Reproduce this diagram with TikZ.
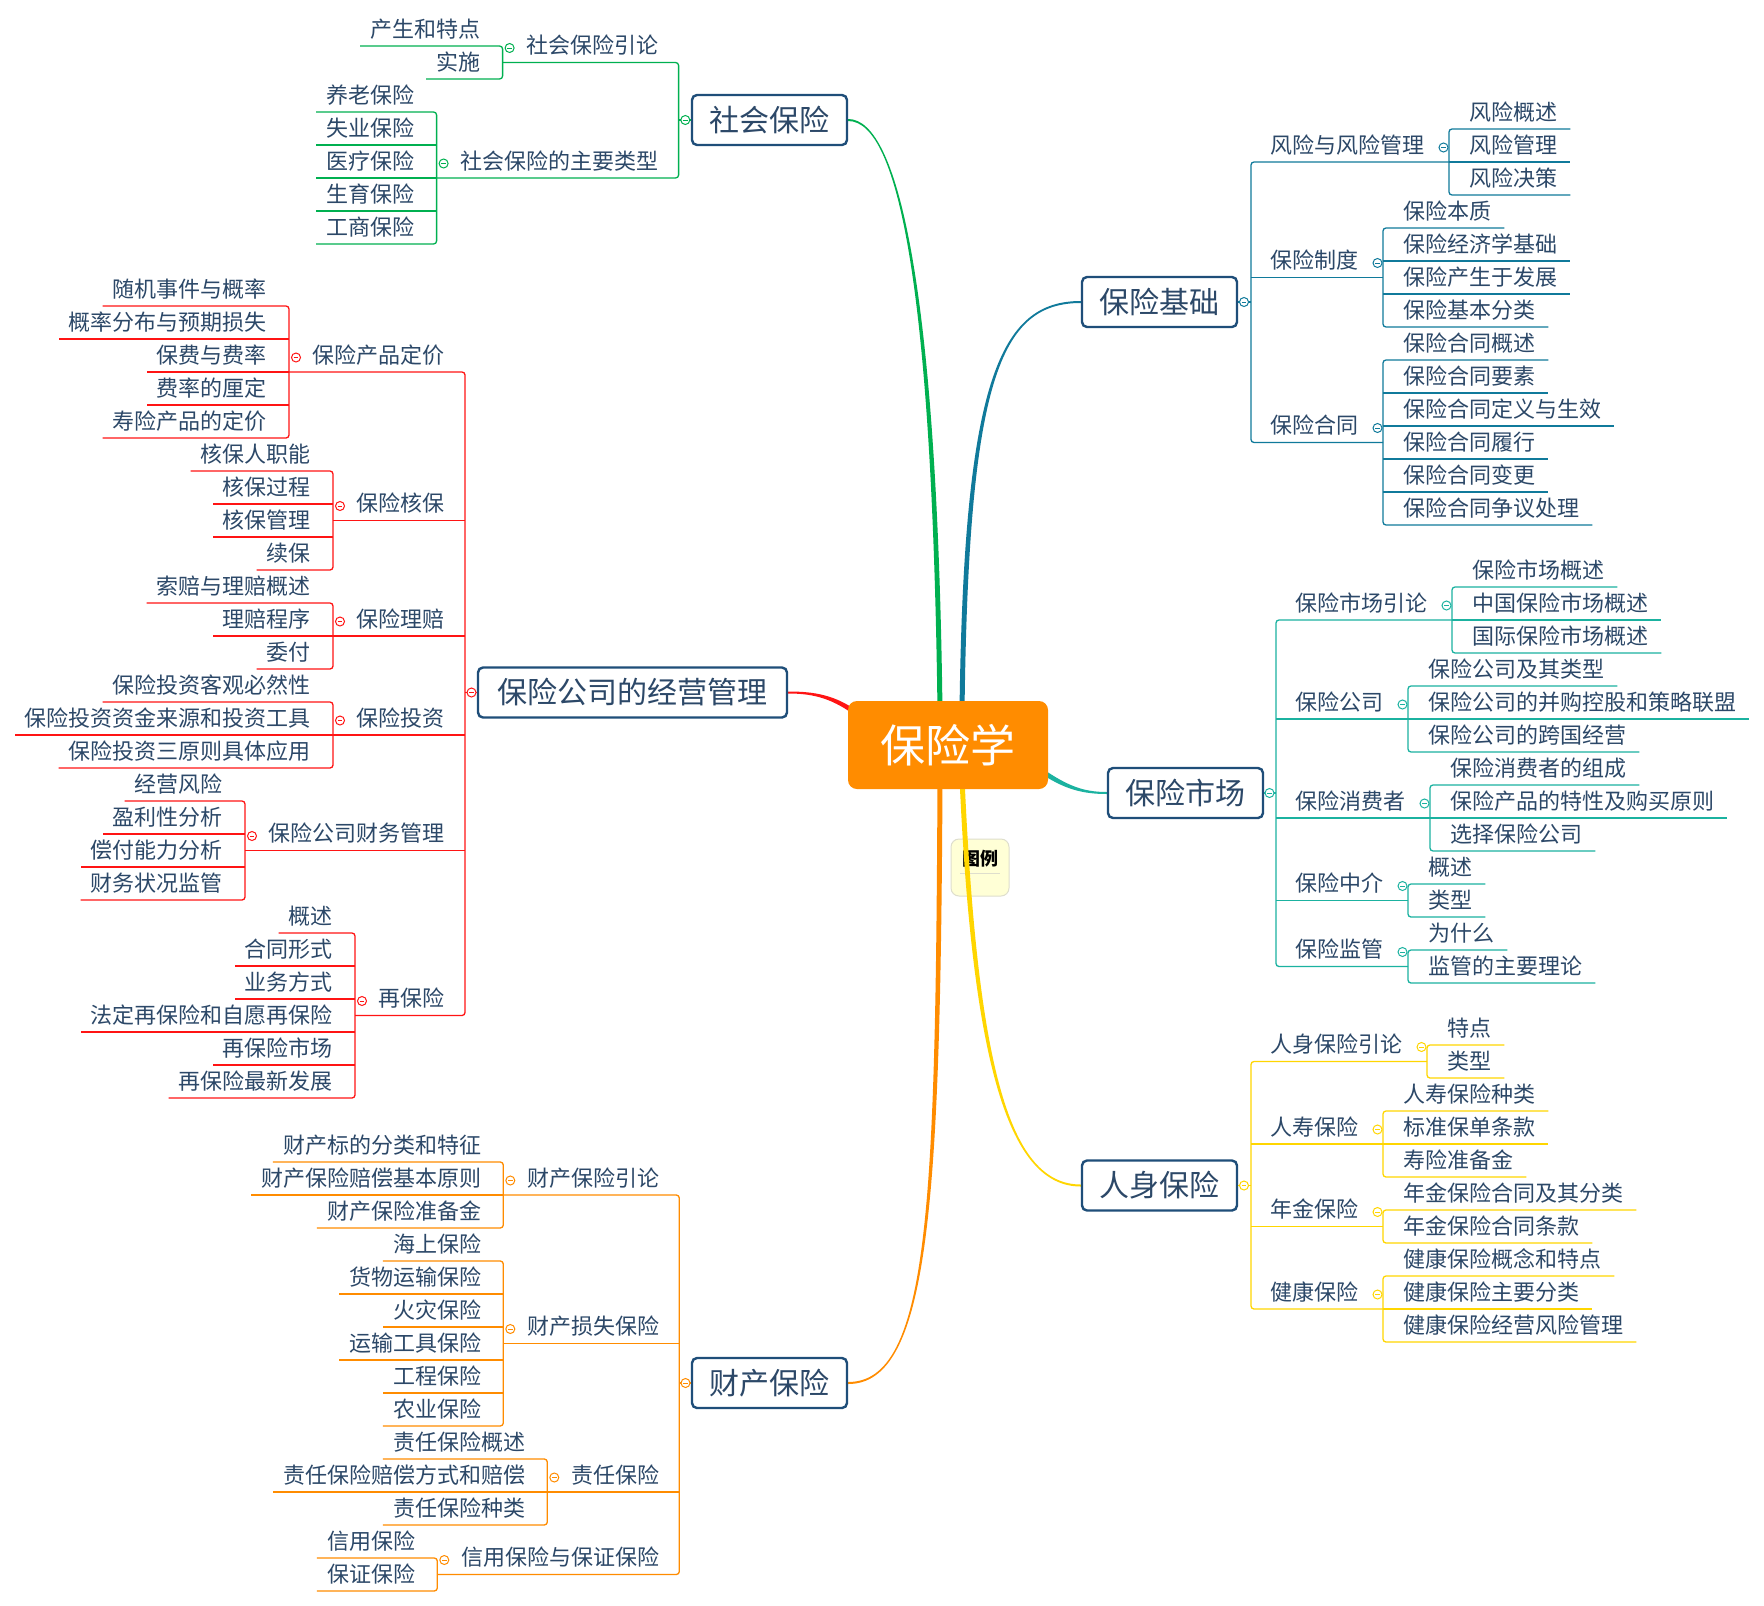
\documentclass[tikz,border=0pt]{standalone}
\usepackage{fontspec}
\setmainfont{Noto Sans CJK SC}
\usetikzlibrary{calc}
\pgfdeclarelayer{bg}
\pgfsetlayers{bg,main}
\definecolor{txt}{RGB}{44,72,104}
\definecolor{boxb}{RGB}{31,78,121}
\definecolor{cgreen}{RGB}{0,176,80}
\definecolor{cblue}{RGB}{16,122,155}
\definecolor{cteal}{RGB}{27,178,160}
\definecolor{cyell}{RGB}{255,214,0}
\definecolor{corng}{RGB}{255,140,0}
\definecolor{cred}{RGB}{255,20,20}
\definecolor{legf}{RGB}{255,255,214}
\definecolor{legd}{RGB}{222,222,205}
% leaf on the right / left of its bracket: name, bracket x, underline y, text
\newcommand\leafR[4]{\node[leaf,anchor=base west] (#1) at (#2+20,#3-9) {#4};\coordinate (#1u) at ($(#1.base east)+(13,9)$);}
\newcommand\leafL[4]{\node[leaf,anchor=base east] (#1) at (#2-22,#3-9) {#4};\coordinate (#1u) at ($(#1.base west)+(-10,9)$);}
% level-2 topic: name, main bracket x, underline y, text
\newcommand\parR[4]{\node[leaf,anchor=base west] (#1) at (#2+19,#3-9) {#4};}
\newcommand\parL[4]{\node[leaf,anchor=base east] (#1) at (#2-20,#3-9) {#4};}
% bracket: colour, x, first y, last y, first leaf, last leaf
\newcommand\brk[6]{\draw[br=#1] (#5u) -- (#2,#3) -- (#2,#4) -- (#6u);}
\newcommand\midl[4]{\draw[br=#1] (#2,#3) -- (#4u);}
\newcommand\knob[4]{\node[knobn,draw=#2] (#1) at (#3,#4) {};\draw[#2,line width=0.9pt] ($(#1.center)+(-2.3,0)$) -- ($(#1.center)+(2.3,0)$);}
\newcommand\taper[7]{\fill[#1] ($(#2)+(#6)$) .. controls ($(#3)+(#6)$) and ($(#4)+(#7)$) .. ($(#5)+(#7)$) -- ($(#5)-(#7)$) .. controls ($(#4)-(#7)$) and ($(#3)-(#6)$) .. ($(#2)-(#6)$) -- cycle;}
\begin{document}
\begin{tikzpicture}[x=1pt,y=-1pt,
 leaf/.style={inner sep=0pt,text=txt,font=\fontsize{22}{26}\selectfont},
 mainbox/.style={draw=boxb,line width=2.4pt,fill=white,rounded corners=5pt,inner sep=0pt,minimum height=50pt,minimum width=155pt,text=txt,font=\fontsize{30}{34}\selectfont},
 centerbox/.style={fill=corng,rounded corners=9pt,inner sep=0pt,minimum width=200pt,minimum height=88pt,text=white,font=\fontsize{45}{50}\selectfont},
 knobn/.style={circle,fill=white,line width=1pt,minimum size=9pt,inner sep=0pt},
 br/.style={draw=#1,line width=1.3pt,rounded corners=3pt}]
\begin{pgfonlayer}{bg}
\fill[white] (0,0) rectangle (1764,1606);
\end{pgfonlayer}
\useasboundingbox (0,0) rectangle (1764,1606);

% ---------- central and main topics
\node[centerbox] (C) at (948,745) {保险学};
\node[mainbox] (M1) at (769.5,120) {社会保险};
\node[mainbox] (M2) at (1159.5,302) {保险基础};
\node[mainbox] (M3) at (1185.5,793) {保险市场};
\node[mainbox] (M4) at (1159.5,1185.5) {人身保险};
\node[mainbox] (M5) at (769.5,1383) {财产保险};
\node[mainbox,minimum width=309pt] (M6) at (632.5,692.5) {保险公司的经营管理};

% ---------- legend and curved connectors (background)
\begin{pgfonlayer}{bg}
\node[draw=legd,fill=legf,line width=1pt,rounded corners=8pt,minimum width=58pt,minimum height=57pt,inner sep=0pt] (LG) at (980,867.5) {};
\node[inner sep=0pt,text=black,font=\fontsize{18}{20}\selectfont\bfseries] (LGt) at (980,859) {图例};
\draw[legd,line width=1pt] (960,873) -- (1000,873);
\coordinate (g0) at ($(C.center)+(-8,-33)$);
\coordinate (b0) at ($(C.center)+(14,-33)$);
\coordinate (y0) at ($(C.center)+(14,33)$);
\coordinate (o0) at ($(C.center)+(-8,33)$);
\coordinate (r0) at ($(C.center)+(-88,-29)$);
\coordinate (t0) at ($(C.center)+(92,25)$);
\taper{cgreen}{g0}{935,300}{900,120}{M1.east}{2.5,0}{0,-1}
\taper{cblue}{b0}{966,380}{1000,302}{M2.west}{2.5,0}{0,1}
\taper{cyell}{y0}{975,1070}{1010,1185.5}{M4.west}{2.5,0}{0,-1}
\taper{corng}{o0}{938,1200}{930,1383}{M5.east}{2.5,0}{0,1}
\taper{cred}{r0}{835,697}{815,692.5}{M6.east}{1.4,-2}{0,-1}
\taper{cteal}{t0}{1065,787}{1082,793}{M3.west}{1.4,-2}{0,-1}
\end{pgfonlayer}

% ---------- 社会保险 (green, left)
\parL{SA}{678.6}{62.5}{社会保险引论}
\leafL{SA1}{502.6}{46}{产生和特点}
\leafL{SA2}{502.6}{79}{实施}
\brk{cgreen}{502.6}{46}{79}{SA1}{SA2}
\parL{SB}{678.6}{178}{社会保险的主要类型}
\leafL{SB1}{436.6}{112}{养老保险}
\leafL{SB2}{436.6}{145}{失业保险}
\leafL{SB3}{436.6}{178}{医疗保险}
\leafL{SB4}{436.6}{211}{生育保险}
\leafL{SB5}{436.6}{244}{工商保险}
\brk{cgreen}{436.6}{112}{244}{SB1}{SB5}
\midl{cgreen}{436.6}{145}{SB2}
\midl{cgreen}{436.6}{178}{SB3}
\midl{cgreen}{436.6}{211}{SB4}
\draw[br=cgreen] (502.6,62.5) -- (678.6,62.5) -- (678.6,178) -- (436.6,178);
\draw[br=cgreen] (M1.west) -- (678.6,120);
\knob{SAk}{cgreen}{509.6}{48}
\knob{SBk}{cgreen}{443.6}{163.5}
\knob{M1k}{cgreen}{685.3}{120}

% ---------- 保险公司的经营管理 (red, left)
\parL{RA}{465}{372}{保险产品定价}
\leafL{RA1}{289}{306}{随机事件与概率}
\leafL{RA2}{289}{339}{概率分布与预期损失}
\leafL{RA3}{289}{372}{保费与费率}
\leafL{RA4}{289}{405}{费率的厘定}
\leafL{RA5}{289}{438}{寿险产品的定价}
\brk{cred}{289}{306}{438}{RA1}{RA5}
\midl{cred}{289}{339}{RA2}
\midl{cred}{289}{372}{RA3}
\midl{cred}{289}{405}{RA4}
\parL{RB}{465}{520.5}{保险核保}
\leafL{RB1}{333}{471}{核保人职能}
\leafL{RB2}{333}{504}{核保过程}
\leafL{RB3}{333}{537}{核保管理}
\leafL{RB4}{333}{570}{续保}
\brk{cred}{333}{471}{570}{RB1}{RB4}
\midl{cred}{333}{504}{RB2}
\midl{cred}{333}{537}{RB3}
\parL{RC}{465}{636}{保险理赔}
\leafL{RC1}{333}{603}{索赔与理赔概述}
\leafL{RC2}{333}{636}{理赔程序}
\leafL{RC3}{333}{669}{委付}
\brk{cred}{333}{603}{669}{RC1}{RC3}
\midl{cred}{333}{636}{RC2}
\parL{RD}{465}{735}{保险投资}
\leafL{RD1}{333}{702}{保险投资客观必然性}
\leafL{RD2}{333}{735}{保险投资资金来源和投资工具}
\leafL{RD3}{333}{768}{保险投资三原则具体应用}
\brk{cred}{333}{702}{768}{RD1}{RD3}
\midl{cred}{333}{735}{RD2}
\parL{RE}{465}{850.5}{保险公司财务管理}
\leafL{RE1}{245}{801}{经营风险}
\leafL{RE2}{245}{834}{盈利性分析}
\leafL{RE3}{245}{867}{偿付能力分析}
\leafL{RE4}{245}{900}{财务状况监管}
\brk{cred}{245}{801}{900}{RE1}{RE4}
\midl{cred}{245}{834}{RE2}
\midl{cred}{245}{867}{RE3}
\parL{RF}{465}{1015.5}{再保险}
\leafL{RF1}{355}{933}{概述}
\leafL{RF2}{355}{966}{合同形式}
\leafL{RF3}{355}{999}{业务方式}
\leafL{RF4}{355}{1032}{法定再保险和自愿再保险}
\leafL{RF5}{355}{1065}{再保险市场}
\leafL{RF6}{355}{1098}{再保险最新发展}
\brk{cred}{355}{933}{1098}{RF1}{RF6}
\midl{cred}{355}{966}{RF2}
\midl{cred}{355}{999}{RF3}
\midl{cred}{355}{1032}{RF4}
\midl{cred}{355}{1065}{RF5}
\draw[br=cred] (289,372) -- (465,372) -- (465,1015.5) -- (355,1015.5);
\draw[br=cred] (333,520.5) -- (465,520.5);
\draw[br=cred] (333,636) -- (465,636);
\draw[br=cred] (333,735) -- (465,735);
\draw[br=cred] (245,850.5) -- (465,850.5);
\draw[br=cred] (M6.west) -- (465,692.5);
\knob{RAk}{cred}{296}{357.5}
\knob{RBk}{cred}{340}{506}
\knob{RCk}{cred}{340}{621.5}
\knob{RDk}{cred}{340}{720.5}
\knob{REk}{cred}{252}{836}
\knob{RFk}{cred}{362}{1001}
\knob{M6k}{cred}{471.5}{692.5}

% ---------- 财产保险 (orange, left)
\parL{OA}{679.3}{1195}{财产保险引论}
\leafL{OA1}{503.3}{1162}{财产标的分类和特征}
\leafL{OA2}{503.3}{1195}{财产保险赔偿基本原则}
\leafL{OA3}{503.3}{1228}{财产保险准备金}
\brk{corng}{503.3}{1162}{1228}{OA1}{OA3}
\midl{corng}{503.3}{1195}{OA2}
\parL{OB}{679.3}{1343.5}{财产损失保险}
\leafL{OB1}{503.3}{1261}{海上保险}
\leafL{OB2}{503.3}{1294}{货物运输保险}
\leafL{OB3}{503.3}{1327}{火灾保险}
\leafL{OB4}{503.3}{1360}{运输工具保险}
\leafL{OB5}{503.3}{1393}{工程保险}
\leafL{OB6}{503.3}{1426}{农业保险}
\brk{corng}{503.3}{1261}{1426}{OB1}{OB6}
\midl{corng}{503.3}{1294}{OB2}
\midl{corng}{503.3}{1327}{OB3}
\midl{corng}{503.3}{1360}{OB4}
\midl{corng}{503.3}{1393}{OB5}
\parL{OC}{679.3}{1492}{责任保险}
\leafL{OC1}{547.3}{1459}{责任保险概述}
\leafL{OC2}{547.3}{1492}{责任保险赔偿方式和赔偿}
\leafL{OC3}{547.3}{1525}{责任保险种类}
\brk{corng}{547.3}{1459}{1525}{OC1}{OC3}
\midl{corng}{547.3}{1492}{OC2}
\parL{OD}{679.3}{1574.5}{信用保险与保证保险}
\leafL{OD1}{437.3}{1558}{信用保险}
\leafL{OD2}{437.3}{1591}{保证保险}
\brk{corng}{437.3}{1558}{1591}{OD1}{OD2}
\draw[br=corng] (503.3,1195) -- (679.3,1195) -- (679.3,1574.5) -- (437.3,1574.5);
\draw[br=corng] (503.3,1343.5) -- (679.3,1343.5);
\draw[br=corng] (547.3,1492) -- (679.3,1492);
\draw[br=corng] (M5.west) -- (679.3,1383);
\knob{OAk}{corng}{510.3}{1180.5}
\knob{OBk}{corng}{510.3}{1329}
\knob{OCk}{corng}{554.3}{1477.5}
\knob{ODk}{corng}{444.3}{1560}
\knob{M5k}{corng}{685.5}{1383}

% ---------- 保险基础 (blue, right)
\parR{BA}{1251}{162}{风险与风险管理}
\leafR{BA1}{1449}{129}{风险概述}
\leafR{BA2}{1449}{162}{风险管理}
\leafR{BA3}{1449}{195}{风险决策}
\brk{cblue}{1449}{129}{195}{BA1}{BA3}
\midl{cblue}{1449}{162}{BA2}
\parR{BB}{1251}{277.5}{保险制度}
\leafR{BB1}{1383}{228}{保险本质}
\leafR{BB2}{1383}{261}{保险经济学基础}
\leafR{BB3}{1383}{294}{保险产生于发展}
\leafR{BB4}{1383}{327}{保险基本分类}
\brk{cblue}{1383}{228}{327}{BB1}{BB4}
\midl{cblue}{1383}{261}{BB2}
\midl{cblue}{1383}{294}{BB3}
\parR{BC}{1251}{442.5}{保险合同}
\leafR{BC1}{1383}{360}{保险合同概述}
\leafR{BC2}{1383}{393}{保险合同要素}
\leafR{BC3}{1383}{426}{保险合同定义与生效}
\leafR{BC4}{1383}{459}{保险合同履行}
\leafR{BC5}{1383}{492}{保险合同变更}
\leafR{BC6}{1383}{525}{保险合同争议处理}
\brk{cblue}{1383}{360}{525}{BC1}{BC6}
\midl{cblue}{1383}{393}{BC2}
\midl{cblue}{1383}{426}{BC3}
\midl{cblue}{1383}{459}{BC4}
\midl{cblue}{1383}{492}{BC5}
\draw[br=cblue] (1449,162) -- (1251,162) -- (1251,442.5) -- (1383,442.5);
\draw[br=cblue] (1251,277.5) -- (1383,277.5);
\draw[br=cblue] (M2.east) -- (1251,302);
\knob{BAk}{cblue}{1443.5}{147.5}
\knob{BBk}{cblue}{1377.5}{263}
\knob{BCk}{cblue}{1377.5}{428}
\knob{M2k}{cblue}{1244}{302}

% ---------- 保险市场 (teal, right)
\parR{TA}{1276}{620}{保险市场引论}
\leafR{TA1}{1452}{587}{保险市场概述}
\leafR{TA2}{1452}{620}{中国保险市场概述}
\leafR{TA3}{1452}{653}{国际保险市场概述}
\brk{cteal}{1452}{587}{653}{TA1}{TA3}
\midl{cteal}{1452}{620}{TA2}
\parR{TB}{1276}{719}{保险公司}
\leafR{TB1}{1408}{686}{保险公司及其类型}
\leafR{TB2}{1408}{719}{保险公司的并购控股和策略联盟}
\leafR{TB3}{1408}{752}{保险公司的跨国经营}
\brk{cteal}{1408}{686}{752}{TB1}{TB3}
\midl{cteal}{1408}{719}{TB2}
\parR{TC}{1276}{818}{保险消费者}
\leafR{TC1}{1430}{785}{保险消费者的组成}
\leafR{TC2}{1430}{818}{保险产品的特性及购买原则}
\leafR{TC3}{1430}{851}{选择保险公司}
\brk{cteal}{1430}{785}{851}{TC1}{TC3}
\midl{cteal}{1430}{818}{TC2}
\parR{TD}{1276}{900.5}{保险中介}
\leafR{TD1}{1408}{884}{概述}
\leafR{TD2}{1408}{917}{类型}
\brk{cteal}{1408}{884}{917}{TD1}{TD2}
\parR{TE}{1276}{966.5}{保险监管}
\leafR{TE1}{1408}{950}{为什么}
\leafR{TE2}{1408}{983}{监管的主要理论}
\brk{cteal}{1408}{950}{983}{TE1}{TE2}
\draw[br=cteal] (1452,620) -- (1276,620) -- (1276,966.5) -- (1408,966.5);
\draw[br=cteal] (1276,719) -- (1408,719);
\draw[br=cteal] (1276,818) -- (1430,818);
\draw[br=cteal] (1276,900.5) -- (1408,900.5);
\draw[br=cteal] (M3.east) -- (1276,793);
\knob{TAk}{cteal}{1446.5}{605.5}
\knob{TBk}{cteal}{1402.5}{704.5}
\knob{TCk}{cteal}{1424.5}{803.5}
\knob{TDk}{cteal}{1402.5}{886}
\knob{TEk}{cteal}{1402.5}{952}
\knob{M3k}{cteal}{1269.5}{793}

% ---------- 人身保险 (yellow, right)
\parR{YA}{1251}{1061.5}{人身保险引论}
\leafR{YA1}{1427}{1045}{特点}
\leafR{YA2}{1427}{1078}{类型}
\brk{cyell}{1427}{1045}{1078}{YA1}{YA2}
\parR{YB}{1251}{1144}{人寿保险}
\leafR{YB1}{1383}{1111}{人寿保险种类}
\leafR{YB2}{1383}{1144}{标准保单条款}
\leafR{YB3}{1383}{1177}{寿险准备金}
\brk{cyell}{1383}{1111}{1177}{YB1}{YB3}
\midl{cyell}{1383}{1144}{YB2}
\parR{YC}{1251}{1226.5}{年金保险}
\leafR{YC1}{1383}{1210}{年金保险合同及其分类}
\leafR{YC2}{1383}{1243}{年金保险合同条款}
\brk{cyell}{1383}{1210}{1243}{YC1}{YC2}
\parR{YD}{1251}{1309}{健康保险}
\leafR{YD1}{1383}{1276}{健康保险概念和特点}
\leafR{YD2}{1383}{1309}{健康保险主要分类}
\leafR{YD3}{1383}{1342}{健康保险经营风险管理}
\brk{cyell}{1383}{1276}{1342}{YD1}{YD3}
\midl{cyell}{1383}{1309}{YD2}
\draw[br=cyell] (1427,1061.5) -- (1251,1061.5) -- (1251,1309) -- (1383,1309);
\draw[br=cyell] (1251,1144) -- (1383,1144);
\draw[br=cyell] (1251,1226.5) -- (1383,1226.5);
\draw[br=cyell] (M4.east) -- (1251,1185.5);
\knob{YAk}{cyell}{1421.5}{1047}
\knob{YBk}{cyell}{1377.5}{1129.5}
\knob{YCk}{cyell}{1377.5}{1212}
\knob{YDk}{cyell}{1377.5}{1294.5}
\knob{M4k}{cyell}{1244}{1185.5}
\end{tikzpicture}
\end{document}
